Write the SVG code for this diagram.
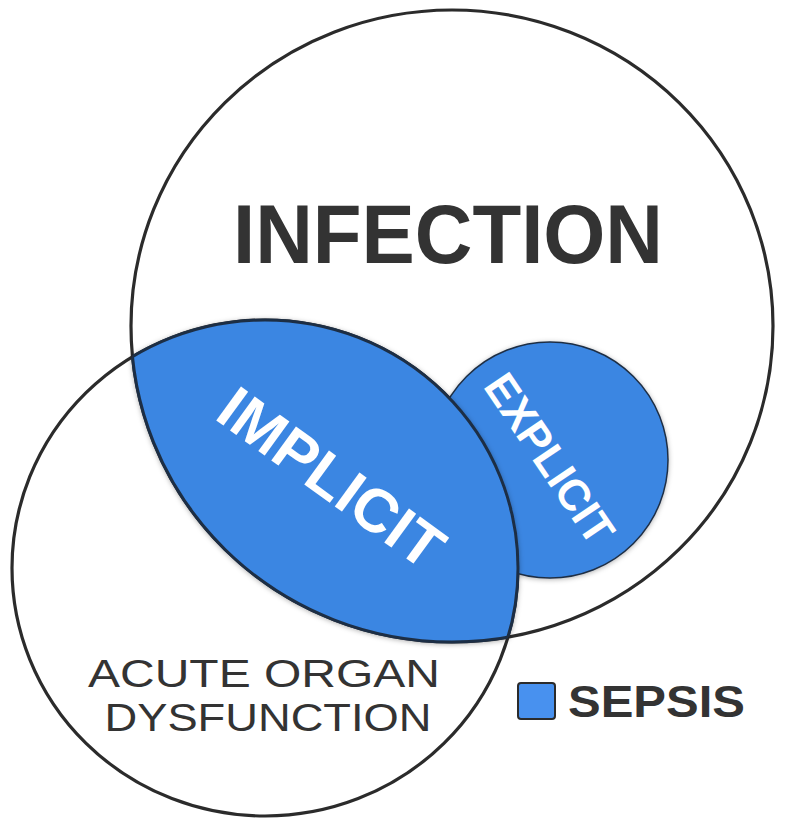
<svg xmlns="http://www.w3.org/2000/svg" width="790" height="831" viewBox="0 0 790 831">
  <defs>
    <filter id="shadow" x="-10%" y="-10%" width="120%" height="120%">
      <feDropShadow dx="0" dy="1" stdDeviation="2.5" flood-color="#000" flood-opacity="0.3"/>
    </filter>
    <clipPath id="clipBig">
      <ellipse cx="452" cy="326" rx="321" ry="316"/>
    </clipPath>
    <clipPath id="clipLeft">
      <ellipse cx="265" cy="568" rx="253" ry="248"/>
    </clipPath>
    <style>
      .ring { fill: none; stroke: #2b2b2b; stroke-width: 3.2; }
      .sepsis { fill: #3a86e2; stroke: #1f2f45; stroke-width: 1.5; }
      .edge { stroke: #1f2f45; stroke-width: 3; }
      .lbl { font-family: "Liberation Sans", Arial, sans-serif; fill: #333333; }
      .bold { font-weight: bold; }
      .white { font-family: "Liberation Sans", Arial, sans-serif; font-weight: bold; fill: #ffffff; }
    </style>
  </defs>
  <rect x="0" y="0" width="790" height="831" fill="#ffffff"/>

  <g id="node-infection">
    <ellipse class="ring" cx="452" cy="326" rx="321" ry="316"/>
    <text class="lbl bold" x="448" y="263" font-size="84" text-anchor="middle" textLength="430" lengthAdjust="spacingAndGlyphs">INFECTION</text>
  </g>

  <g id="node-organ">
    <ellipse class="ring" cx="265" cy="568" rx="253" ry="248"/>
    <text class="lbl" x="264" y="687" font-size="39" text-anchor="middle" textLength="352" lengthAdjust="spacingAndGlyphs">ACUTE ORGAN</text>
    <text class="lbl" x="268" y="731" font-size="39" text-anchor="middle" textLength="327" lengthAdjust="spacingAndGlyphs">DYSFUNCTION</text>
  </g>

  <g id="node-explicit">
    <circle class="sepsis" cx="550" cy="460" r="118" filter="url(#shadow)"/>
    <text class="white" font-size="44" text-anchor="middle" textLength="195" lengthAdjust="spacingAndGlyphs" transform="translate(537,467) rotate(56)">EXPLICIT</text>
  </g>

  <g id="node-implicit">
    <g filter="url(#shadow)">
      <g clip-path="url(#clipBig)">
        <ellipse cx="265" cy="568" rx="253" ry="248" fill="#3a86e2" class="edge"/>
      </g>
      <g clip-path="url(#clipLeft)">
        <ellipse cx="452" cy="326" rx="321" ry="316" fill="none" class="edge"/>
      </g>
    </g>
    <text class="white" font-size="61" text-anchor="middle" textLength="262" lengthAdjust="spacingAndGlyphs" transform="translate(319,495) rotate(36)">IMPLICIT</text>
  </g>

  <g id="legend">
    <rect x="518" y="683" width="37" height="36" rx="3" fill="#4891ef" stroke="#2b2b2b" stroke-width="2"/>
    <text class="lbl bold" x="568" y="717" font-size="45" textLength="177" lengthAdjust="spacingAndGlyphs">SEPSIS</text>
  </g>
</svg>
